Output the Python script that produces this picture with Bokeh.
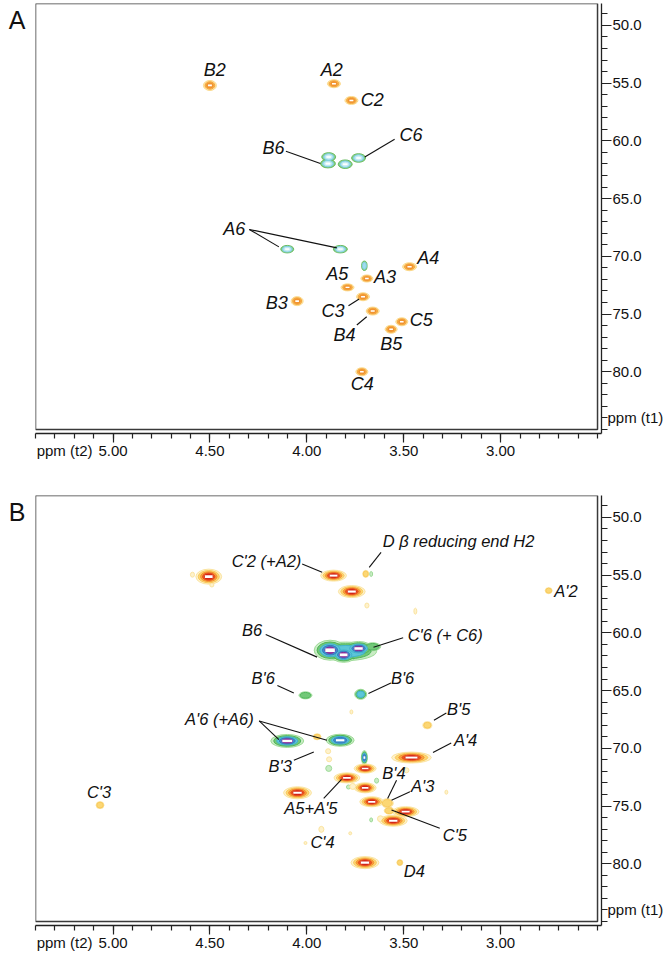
import numpy as np
from bokeh.plotting import figure
from bokeh.models import (Range1d, FixedTicker, PrintfTickFormatter, BoxAnnotation,
                          LinearAxis, ColumnDataSource)
from bokeh.layouts import column
from bokeh.embed import file_html
from bokeh.resources import INLINE
from bokeh.core.properties import value

# ---------------- data: panel A ----------------
# positive-phase (CH) cross peaks: 1H ppm, 13C ppm, width (ppm), height (ppm), contour levels
a_pos_x = [4.50, 3.86, 3.77, 3.47, 3.69, 3.79, 3.71, 3.66, 4.05, 3.51, 3.565, 3.716]
a_pos_y = [55.2, 55.05, 56.5, 70.9, 71.92, 72.69, 73.50, 74.74, 73.88, 75.67, 76.32, 80.0]
a_pos_w = [0.067, 0.067, 0.067, 0.072, 0.062, 0.067, 0.067, 0.067, 0.062, 0.062, 0.062, 0.062]
a_pos_h = [0.87, 0.69, 0.69, 0.69, 0.61, 0.61, 0.69, 0.69, 0.78, 0.69, 0.69, 0.69]
a_pos_n = [3, 3, 3, 3, 3, 3, 3, 3, 3, 3, 3, 3]
# negative-phase (CH2) cross peaks
a_neg_x = [3.887, 3.891, 3.802, 3.733, 4.101, 3.827, 3.703]
a_neg_y = [61.39, 61.97, 62.02, 61.48, 69.38, 69.38, 70.82]
a_neg_w = [0.072, 0.077, 0.072, 0.072, 0.067, 0.072, 0.028]
a_neg_h = [0.74, 0.74, 0.74, 0.74, 0.65, 0.65, 0.82]
a_neg_n = [3, 3, 3, 3, 3, 3, 2]

a_lab_text = ["B2", "A2", "C2", "B6", "C6", "A6", "A5", "A3", "A4", "B3", "C3", "B4", "C5", "B5", "C4"]
a_lab_x = [4.475, 3.871, 3.662, 4.172, 3.462, 4.374, 3.843, 3.596, 3.374, 4.155, 3.865, 3.806, 3.409, 3.564, 3.714]
a_lab_y = [53.9, 53.9, 56.49, 60.64, 59.52, 67.59, 71.57, 71.77, 70.13, 74.07, 74.72, 76.82, 75.48, 77.58, 81.08]
a_lead_x0 = [4.108, 3.547, 4.297, 4.297, 3.785, 3.742]
a_lead_y0 = [60.90, 59.86, 67.67, 67.67, 74.28, 75.95]
a_lead_x1 = [3.930, 3.701, 4.144, 3.845, 3.730, 3.691]
a_lead_y1 = [61.96, 61.39, 69.18, 69.27, 73.70, 75.23]

# ---------------- data: panel B ----------------
b_pos_x = [4.506, 4.59, 4.49, 3.862, 3.768, 3.696, 3.69, 3.44, 2.752, 3.378, 3.46, 3.486,
           3.699, 3.793, 3.699, 3.665, 4.048, 3.49, 3.554, 3.70, 3.52, 3.585, 3.575, 3.947,
           5.067, 3.925, 3.89, 3.885, 3.763, 3.62, 3.77, 3.28, 4.007, 3.776]
b_pos_y = [55.13, 54.96, 55.85, 55.04, 56.42, 54.89, 57.63, 58.12, 56.34, 68.0, 70.8, 71.9,
           71.75, 72.56, 73.42, 74.63, 73.85, 75.49, 76.27, 79.9, 79.9, 74.75, 75.4, 69.0,
           74.92, 77.02, 70.25, 70.95, 73.3, 76.1, 66.85, 73.8, 78.2, 77.36]
b_pos_w = [0.133, 0.021, 0.021, 0.133, 0.138, 0.031, 0.021, 0.015, 0.036, 0.046, 0.205, 0.026,
           0.113, 0.133, 0.113, 0.123, 0.144, 0.138, 0.144, 0.144, 0.031, 0.062, 0.051, 0.041,
           0.041, 0.026, 0.026, 0.026, 0.031, 0.031, 0.015, 0.015, 0.015, 0.015]
b_pos_h = [1.30, 0.43, 0.35, 0.95, 1.04, 0.61, 0.43, 0.52, 0.52, 0.61, 0.95, 0.43,
           0.78, 0.87, 0.87, 0.87, 1.04, 0.87, 0.95, 1.04, 0.52, 0.78, 0.61, 0.52,
           0.61, 0.52, 0.43, 0.43, 0.52, 0.52, 0.35, 0.35, 0.26, 0.26]
b_pos_n = [5, 1, 1, 5, 5, 2, 1, 1, 2, 2, 5, 1,
           5, 5, 5, 5, 5, 5, 5, 5, 2, 2, 2, 2,
           2, 1, 1, 1, 1, 1, 1, 1, 1, 1]
b_neg_x = [3.80, 3.88, 3.81, 3.733, 3.66, 4.007, 3.722, 4.101, 3.828, 3.703, 3.668, 3.887, 3.64, 3.668, 3.785]
b_neg_y = [61.6, 61.5, 61.9, 61.35, 61.2, 65.41, 65.32, 69.36, 69.3, 70.8, 54.9, 71.74, 72.8, 76.2, 73.35]
b_neg_w = [0.320, 0.164, 0.133, 0.144, 0.082, 0.067, 0.062, 0.170, 0.144, 0.031, 0.015, 0.031, 0.021, 0.015, 0.021]
b_neg_h = [1.60, 1.73, 1.30, 1.21, 0.69, 0.61, 0.87, 1.12, 1.04, 1.21, 0.43, 0.52, 0.43, 0.35, 0.35]
b_neg_n = [3, 5, 5, 5, 2, 2, 3, 5, 4, 4, 1, 1, 1, 1, 1]

b_lab_text = ["C'2 (+A2)", "D \u03b2 reducing end H2", "A'2", "B6", "C'6 (+ C6)", "B'6", "B'6",
              "B'5", "A'6 (+A6)", "A'4", "B'3", "A5+A'5", "C'4", "B'4", "A'3", "C'5", "D4", "C'3"]
b_lab_x = [4.208, 3.217, 2.663, 4.282, 3.286, 4.225, 3.506, 3.216, 4.451, 3.181, 4.137, 3.979,
           3.919, 3.550, 3.402, 3.236, 3.445, 5.072]
b_lab_y = [53.74, 52.01, 56.33, 59.71, 60.22, 63.90, 63.92, 66.56, 67.43, 69.27, 71.57, 75.20,
           78.09, 72.15, 73.30, 77.51, 80.60, 73.77]
b_lead_x0 = [4.024, 3.617, 4.212, 3.503, 4.152, 3.566, 3.280, 4.246, 4.246, 3.255, 4.067, 3.913, 3.537, 3.468, 3.314]
b_lead_y0 = [54.03, 53.02, 60.14, 60.42, 64.55, 64.35, 66.94, 67.63, 67.63, 69.53, 71.03, 74.34, 72.76, 73.77, 76.93]
b_lead_x1 = [3.921, 3.678, 3.947, 3.656, 4.067, 3.682, 3.344, 4.144, 3.896, 3.349, 3.964, 3.821, 3.583, 3.563, 3.563]
b_lead_y1 = [54.75, 54.32, 62.10, 61.24, 65.21, 65.26, 67.57, 69.24, 69.30, 70.36, 70.31, 72.69, 74.34, 74.49, 75.35]

# ---------------- axes ----------------
x_major = [5.0, 4.5, 4.0, 3.5, 3.0]
x_minor = [round(v / 10, 1) for v in range(25, 55)]
y_major = [50, 55, 60, 65, 70, 75, 80]
y_minor = list(range(49, 86))
y_unit_tick = 84          # where "ppm (t1)" sits on the 13C axis
x_unit_tick = 5.25        # where "ppm (t2)" sits under the 1H axis
letter_tick = 49.5        # height of the panel letter
x_lo, x_hi = 5.4, 2.5
y_top, y_bot = 48.1, 85.0

FONT = "Liberation Sans"
WIDTH = 666
BOX_W, BOX_H = 566, 426
GAP = 4
LEFT = 35
x_end = x_hi - GAP * (x_lo - x_hi) / BOX_W
y_start = y_bot + GAP * (y_bot - y_top) / BOX_H

A_POS = (["#fde5a4", "#f8b44c", "#f49a35"], ["#fcd98a", "#f5a53c", "#f0902e"])
A_NEG = (["#86cc7e", "#a0dcee", "#d8f3f8"], ["#6bbd62", "#7fd0e4", "#bde8f0"])
B_POS = (["#fef2cc", "#fcd774", "#f7a23c", "#eb5622", "#da281c"],
         ["#fbe4a0", "#f9c95a", "#f39030", "#e64a1e", "#d0201a"])
B_NEG = (["#c9ecc4", "#72c878", "#5cc6d8", "#3d8fcf", "#9b3aa6"],
         ["#9edb98", "#4fb65a", "#3fb3cc", "#3a78c0", "#8a2a96"])


def draw_peaks(p, xs, ys, ws, hs, ns, pal, scales, dash_from):
    fills, lines = pal
    for lvl in range(len(fills)):
        idx = [i for i, n in enumerate(ns) if n > lvl]
        if not idx:
            continue
        s = scales[lvl]
        src = ColumnDataSource(dict(x=[xs[i] for i in idx], y=[ys[i] for i in idx],
                                    w=[ws[i] * s for i in idx], h=[hs[i] * s for i in idx]))
        p.ellipse(x="x", y="y", width="w", height="h", source=src,
                  fill_color=fills[lvl], line_color=lines[lvl], line_width=1)
    idx = [i for i, n in enumerate(ns) if n >= dash_from]
    if idx:
        src = ColumnDataSource(dict(x=[xs[i] for i in idx], y=[ys[i] for i in idx],
                                    w=[ws[i] * 0.3 for i in idx], h=[hs[i] * 0.18 for i in idx]))
        p.rect(x="x", y="y", width="w", height="h", source=src,
               fill_color="white", line_color=None)


def text_axis(ticks, overrides, size, standoff):
    return LinearAxis(ticker=FixedTicker(ticks=ticks), major_label_overrides=overrides,
                      axis_line_color=None, major_tick_line_color=None,
                      minor_tick_line_color=None, major_tick_out=0, major_tick_in=0,
                      minor_tick_out=0, minor_tick_in=0, major_label_standoff=standoff,
                      major_label_text_font=FONT, major_label_text_font_size=size,
                      major_label_text_color="#111111")


def make_panel(letter, pos, neg, pos_pal, neg_pal, scales, dash_from, labels, leads,
               font_size, top, bottom):
    height = top + BOX_H + GAP + bottom
    p = figure(width=WIDTH, height=height, output_backend="svg", toolbar_location=None,
               x_range=Range1d(x_lo, x_end), y_range=Range1d(y_start, y_top),
               x_axis_location="below", y_axis_location="right",
               min_border_left=LEFT, min_border_right=WIDTH - LEFT - BOX_W - GAP,
               min_border_top=top, min_border_bottom=bottom)
    p.outline_line_color = None
    p.grid.visible = False
    p.background_fill_color = "white"

    for ax, maj, mino, fmt in ((p.xaxis[0], x_major, x_minor, "%.2f"),
                               (p.yaxis[0], y_major, y_minor, "%.1f")):
        ax.ticker = FixedTicker(ticks=maj, minor_ticks=mino)
        ax.formatter = PrintfTickFormatter(format=fmt)
        ax.major_tick_in = 0
        ax.minor_tick_in = 0
        ax.axis_line_color = "#222222"
        ax.major_tick_line_color = "#222222"
        ax.minor_tick_line_color = "#222222"
        ax.axis_line_width = 1.3
        ax.major_tick_line_width = 1.2
        ax.minor_tick_line_width = 1.2
        ax.major_label_text_font = FONT
        ax.major_label_text_font_size = "15px"
        ax.major_label_text_color = "#111111"
    p.xaxis.major_tick_out = 9
    p.xaxis.minor_tick_out = 5
    p.xaxis.major_label_standoff = 3
    p.yaxis.major_tick_out = 10
    p.yaxis.minor_tick_out = 6
    p.yaxis.major_label_standoff = 1

    # panel letter and unit labels, drawn as axis labels (outside the frame)
    p.add_layout(text_axis([letter_tick], {letter_tick: letter}, "25px", 10), "left")
    p.add_layout(text_axis([x_unit_tick], {x_unit_tick: "ppm (t2)"}, "15px", -17), "below")
    p.add_layout(text_axis([y_unit_tick], {y_unit_tick: "ppm (t1)"}, "15px", -37), "right")

    draw_peaks(p, *neg, neg_pal, scales, dash_from)
    draw_peaks(p, *pos, pos_pal, scales, dash_from)

    lx0, ly0, lx1, ly1 = leads
    p.segment(x0=lx0, y0=ly0, x1=lx1, y1=ly1, line_color="#111111", line_width=1.1)
    txt, tx, ty = labels
    p.text(x=tx, y=ty, text=txt, text_font=value(FONT), text_font_style="italic",
           text_font_size=font_size, text_align="center", text_baseline="middle",
           text_color="#111111")

    p.add_layout(BoxAnnotation(left=x_lo, right=x_hi, top=y_top, bottom=y_bot,
                               fill_alpha=0, line_color="#3a3a3a", line_alpha=1.0,
                               line_width=1.5))
    return p


pa = make_panel("A", (a_pos_x, a_pos_y, a_pos_w, a_pos_h, a_pos_n),
                (a_neg_x, a_neg_y, a_neg_w, a_neg_h, a_neg_n), A_POS, A_NEG,
                [1.0, 0.74, 0.5], 3,
                (a_lab_text, a_lab_x, a_lab_y), (a_lead_x0, a_lead_y0, a_lead_x1, a_lead_y1),
                "18px", 3, 59)
pb = make_panel("B", (b_pos_x, b_pos_y, b_pos_w, b_pos_h, b_pos_n),
                (b_neg_x, b_neg_y, b_neg_w, b_neg_h, b_neg_n), B_POS, B_NEG,
                [1.0, 0.82, 0.64, 0.48, 0.32], 4,
                (b_lab_text, b_lab_x, b_lab_y), (b_lead_x0, b_lead_y0, b_lead_x1, b_lead_y1),
                "16.5px", 3, 34)

layout = column(pa, pb, spacing=0)
open("out.html", "w").write(file_html(layout, INLINE))
